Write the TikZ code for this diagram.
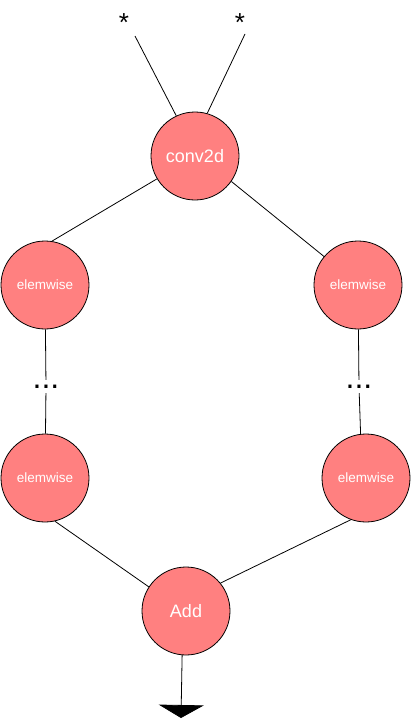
\documentclass[tikz,border=0pt]{standalone}
\usepackage{fontspec}
\setmainfont{Liberation Sans}
\usetikzlibrary{arrows.meta}
\definecolor{nodefill}{RGB}{255,128,128}
\tikzset{
  opnode/.style={circle, draw=black, line width=0.8pt, fill=nodefill, minimum size=88pt, inner sep=0pt, text=white},
  bigtxt/.style={font=\fontsize{18}{18}\selectfont},
  smalltxt/.style={font=\fontsize{13.5}{13.5}\selectfont},
  dotsnode/.style={font=\fontsize{32}{32}\selectfont, inner xsep=0pt, inner ysep=5pt, text height=3pt, text depth=0pt},
  starnode/.style={font=\fontsize{26}{26}\selectfont, anchor=base, inner sep=0pt},
  conn/.style={draw=black, line width=0.8pt}
}
\begin{document}
\begin{tikzpicture}[x=1pt, y=-1pt]
\useasboundingbox (0,0) rectangle (411,720);

\node[starnode] (st1) at (124,31) {*};
\node[starnode] (st2) at (240,31) {*};
\coordinate (s1) at (135,36);
\coordinate (s2) at (245,34);

\node[opnode, bigtxt] (conv) at (195,156) {conv2d};
\node[opnode, smalltxt] (e1) at (45,285) {elemwise};
\node[opnode, smalltxt] (e2) at (358,285) {elemwise};
\node[opnode, smalltxt] (e3) at (45,478) {elemwise};
\node[opnode, smalltxt] (e4) at (366,478) {elemwise};
\node[opnode, bigtxt] (add) at (186,611) {Add};

\node[dotsnode] (d1) at (46,386.5) {...};
\node[dotsnode] (d2) at (359,386.5) {...};

\coordinate (out) at (181,718);

\draw[conn] (s1) -- (conv.115);
\draw[conn] (s2) -- (conv.74);
\draw[conn] (conv.211) -- (e1.81);
\draw[conn] (conv.325) -- (e2.140);
\draw[conn] (e1) -- (d1);
\draw[conn] (d1) -- (e3);
\draw[conn] (e2) -- (d2);
\draw[conn] (d2) -- (e4.97);
\draw[conn] (e3.283) -- (add.147);
\draw[conn] (e4.250) -- (add.39);
\draw[conn, -{Triangle[width=45pt,length=13pt]}] (add.265) -- (out);
\end{tikzpicture}
\end{document}
